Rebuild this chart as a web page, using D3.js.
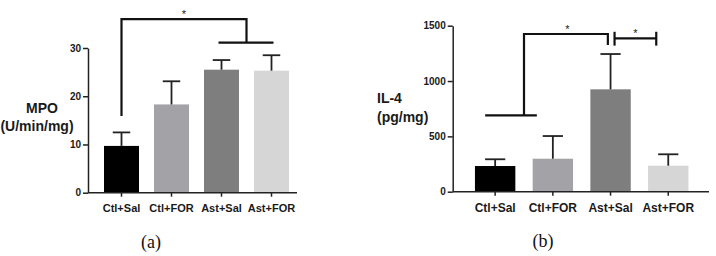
<!DOCTYPE html>
<html>
<head>
<meta charset="utf-8">
<script src="https://cdn.jsdelivr.net/npm/d3@7"></script>
<style>
  body { margin: 0; background: #fff; }
  svg { display: block; font-family: "Liberation Sans", Arial, sans-serif; }
  .axis text { font-weight: bold; fill: #1a1a1a; font-family: "Liberation Sans", Arial, sans-serif; }
  .axis path, .axis line { stroke: #222; stroke-width: 1.5; }
</style>
</head>
<body>
<div class="chart"></div>
<script>
// groups shared by both panels
var categories = ["Ctl+Sal", "Ctl+FOR", "Ast+Sal", "Ast+FOR"];
var barColors = ["#000000", "#a2a2a7", "#7e7e7e", "#d6d6d6"];

// panel (a) MPO
var mpoMeans = [9.7, 18.3, 25.5, 25.3];
var mpoErrors = [2.8, 4.8, 2.0, 3.2];
var mpoTicks = [0, 10, 20, 30];

// panel (b) IL-4
var il4Means = [232, 298, 925, 235];
var il4Errors = [61, 205, 319, 103];
var il4Ticks = [0, 500, 1000, 1500];

(function(){
    var svg = d3.select(".chart").append("svg")
        .attr("width", 716)
        .attr("height", 256);

    var panels = [
        {
            means: mpoMeans, errors: mpoErrors, ticks: mpoTicks, max: 30,
            yAxisX: 88, yRange: [192.7, 48], xRange: [96.5, 296.5], axisEnd: 297,
            labelSize: 11, tickSize: 10,
            yLabel: [{t: "MPO", x: 42, y: 113}, {t: "(U/min/mg)", x: 37, y: 131}], yAnchor: "middle",
            caption: "(a)", capX: 151, capY: 248,
            // significance bracket in data units
            brackets: function(g, x, y) {
                var c0 = x("Ctl+Sal") + x.bandwidth() / 2;
                var c2 = x("Ast+Sal") + x.bandwidth() / 2;
                var c3 = x("Ast+FOR") + x.bandwidth() / 2;
                var mid = (c2 + c3) / 2;
                path(g, [[c0, y(15.9)], [c0, y(36)], [mid, y(36)], [mid, y(31.1)]]);
                path(g, [[c2 - 3, y(31.1)], [c3 + 2, y(31.1)]]);
                star(g, (c0 + mid) / 2, y(36) - 5);
            }
        },
        {
            means: il4Means, errors: il4Errors, ticks: il4Ticks, max: 1500,
            yAxisX: 452.7, yRange: [191.7, 25.7], xRange: [466.3, 697.1], axisEnd: 709,
            labelSize: 12, tickSize: 10,
            yLabel: [{t: "IL-4", x: 377, y: 103}, {t: "(pg/mg)", x: 377, y: 122}], yAnchor: "start",
            caption: "(b)", capX: 543, capY: 247,
            brackets: function(g, x, y) {
                var c0 = x("Ctl+Sal") + x.bandwidth() / 2;
                var c1 = x("Ctl+FOR") + x.bandwidth() / 2;
                var c2 = x("Ast+Sal") + x.bandwidth() / 2;
                var c3 = x("Ast+FOR") + x.bandwidth() / 2;
                var mid = (c0 + c1) / 2;
                path(g, [[c0 - 10, y(690)], [c1 - 16, y(690)]]);
                path(g, [[mid, y(690)], [mid, y(1425)], [c2 - 2.7, y(1425)], [c2 - 2.7, y(1325)]]);
                path(g, [[c2 + 4, y(1320)], [c2 + 4, y(1445)]]);
                path(g, [[c2 + 4, y(1385)], [c3 - 12, y(1385)]]);
                path(g, [[c3 - 12, y(1320)], [c3 - 12, y(1445)]]);
                star(g, (mid + c2) / 2, y(1425) - 5);
                star(g, (c2 + c3) / 2 - 4, y(1385) - 5);
            }
        }
    ];

    function path(g, pts) {
        g.append("path")
            .attr("d", d3.line()(pts))
            .attr("fill", "none")
            .attr("stroke", "#111")
            .attr("stroke-width", 2.2);
    }

    function star(g, cx, cy) {
        g.append("text")
            .attr("x", cx)
            .attr("y", cy + 4)
            .attr("text-anchor", "middle")
            .attr("font-size", 11)
            .style("fill", "#222")
            .text("*");
    }

    panels.forEach(function(p){
        var x = d3.scaleBand().domain(categories).range(p.xRange)
            .paddingInner(0.3).paddingOuter(0.15);
        var y = d3.scaleLinear().domain([0, p.max]).range(p.yRange);
        var g = svg.append("g");

        // bars
        g.selectAll(".bar").data(p.means).enter()
            .append("rect")
            .attr("x", function(d, i){ return x(categories[i]); })
            .attr("y", function(d){ return y(d); })
            .attr("width", x.bandwidth())
            .attr("height", function(d){ return y(0) - y(d); })
            .attr("fill", function(d, i){ return barColors[i]; });

        // error bars (upper only)
        var cap = x.bandwidth() * 0.25;
        p.means.forEach(function(m, i){
            var cx = x(categories[i]) + x.bandwidth() / 2;
            var top = y(m + p.errors[i]);
            g.append("line").attr("x1", cx).attr("x2", cx)
                .attr("y1", y(m)).attr("y2", top)
                .attr("stroke", "#222").attr("stroke-width", 1.8);
            g.append("line").attr("x1", cx - cap).attr("x2", cx + cap)
                .attr("y1", top).attr("y2", top)
                .attr("stroke", "#222").attr("stroke-width", 1.8);
        });

        // y axis
        g.append("g")
            .attr("class", "axis")
            .attr("transform", "translate(" + p.yAxisX + ",0)")
            .call(d3.axisLeft(y).tickValues(p.ticks).tickFormat(d3.format("d"))
                .tickSize(5).tickSizeOuter(0).tickPadding(2))
            .selectAll("text").attr("font-size", p.tickSize);

        // x axis
        var xa = g.append("g")
            .attr("class", "axis")
            .attr("transform", "translate(0," + y(0) + ")")
            .call(d3.axisBottom(x).tickSize(4).tickPadding(8));
        xa.select(".domain").remove();
        xa.selectAll("text").attr("font-size", p.labelSize);
        g.append("line")
            .attr("x1", p.yAxisX).attr("x2", p.axisEnd)
            .attr("y1", y(0)).attr("y2", y(0))
            .attr("stroke", "#222").attr("stroke-width", 1.5);

        // y label
        p.yLabel.forEach(function(l){
            g.append("text")
                .attr("x", l.x).attr("y", l.y)
                .attr("text-anchor", p.yAnchor)
                .attr("font-size", 14)
                .attr("font-weight", "bold")
                .attr("fill", "#1a1a1a")
                .text(l.t);
        });

        p.brackets(g, x, y);

        // caption
        g.append("text")
            .attr("x", p.capX).attr("y", p.capY)
            .attr("text-anchor", "middle")
            .attr("font-family", "'Liberation Serif', 'DejaVu Serif', serif")
            .attr("font-size", 18)
            .attr("fill", "#111")
            .text(p.caption);
    });
}())
</script>
</body>
</html>
